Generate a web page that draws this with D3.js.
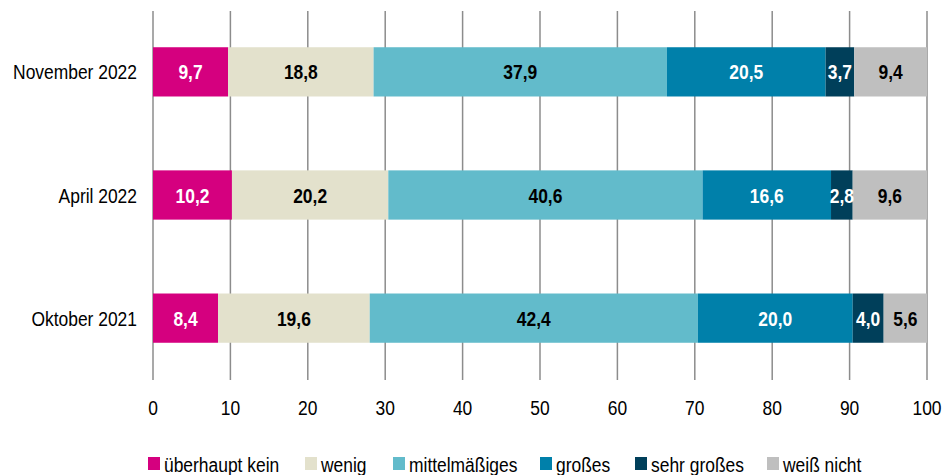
<!DOCTYPE html>
<html><head><meta charset="utf-8">
<script src="https://cdn.jsdelivr.net/npm/d3@7"></script>
<style>
body{margin:0;background:#fff;}
text{font-family:"Liberation Sans",Arial,sans-serif;}
</style></head>
<body><svg id="c" width="943" height="475"></svg>
<script>
const categories = ["November 2022","April 2022","Oktober 2021"];
const seriesNames = ["überhaupt kein","wenig","mittelmäßiges","großes","sehr großes","weiß nicht"];
const nov2022 = [9.7,18.8,37.9,20.5,3.7,9.4];
const apr2022 = [10.2,20.2,40.6,16.6,2.8,9.6];
const okt2021 = [8.4,19.6,42.4,20.0,4.0,5.6];
const ticks = [0,10,20,30,40,50,60,70,80,90,100];
const colors = ["#d5007f","#e3e1cc","#62bbcb","#0080aa","#003f5a","#bfbfbf"];
const labelColors = ["#fff","#000","#000","#fff","#fff","#000"];

const values = [nov2022, apr2022, okt2021];
const NARROW = 0.83, FS = 21;
const svg = d3.select("#c");
const x = d3.scaleLinear().domain([0,100]).range([153,927]);
const y = d3.scaleBand().domain(categories).range([10.3,379.7]).paddingInner(0.6).paddingOuter(0.3);

function txt(sel, px, py, anchor, str, opts={}){
  return sel.append("text")
    .attr("transform",`translate(${px},${py}) scale(${NARROW},1)`)
    .attr("dy","0.36em").attr("text-anchor",anchor)
    .attr("font-size",FS).attr("font-weight",opts.bold?"bold":"normal")
    .attr("fill",opts.fill||"#000").text(str);
}

// grid
svg.append("g").selectAll("line").data(ticks).join("line")
  .attr("x1",d=>x(d)).attr("x2",d=>x(d)).attr("y1",11).attr("y2",380)
  .attr("stroke","#8c8c8c").attr("stroke-width",1.5);

// bars
categories.forEach((cat,i)=>{
  const vals = values[i];
  let cum = 0;
  const segs = vals.map((v,j)=>{const s={j,v,x0:cum,x1:cum+v}; cum+=v; return s;});
  const g = svg.append("g");
  g.selectAll("rect").data(segs).join("rect")
    .attr("x",d=>x(d.x0)).attr("width",d=>x(d.x1)-x(d.x0))
    .attr("y",y(cat)).attr("height",y.bandwidth())
    .attr("fill",d=>colors[d.j]);
  segs.forEach(d=>{
    txt(g,(x(d.x0)+x(d.x1))/2, y(cat)+y.bandwidth()/2, "middle",
        d.v.toFixed(1).replace(".",","), {bold:true, fill:labelColors[d.j]});
  });
  txt(g,137,y(cat)+y.bandwidth()/2,"end",cat);
});

// x tick labels
const tg = svg.append("g");
ticks.forEach(t=>txt(tg,x(t),407,"middle",String(t)));

// legend
const legX = [148,305,393,540,635,767];
const lg = svg.append("g");
seriesNames.forEach((s,i)=>{
  lg.append("rect").attr("x",legX[i]).attr("y",457).attr("width",12).attr("height",13).attr("fill",colors[i]);
  txt(lg,legX[i]+16,464,"start",s);
});
</script></body></html>
